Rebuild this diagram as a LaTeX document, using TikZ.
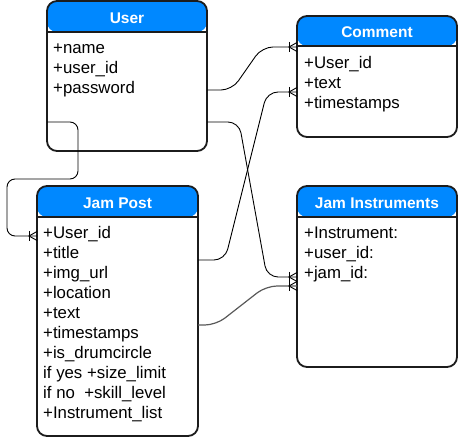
\documentclass[tikz,border=0pt]{standalone}
\usepackage{fontspec}
\setmainfont{Liberation Sans}
\usetikzlibrary{calc}
\definecolor{hdrblue}{HTML}{0088FF}
\definecolor{boxline}{HTML}{1C1C1C}
\newcommand\erCrow[1]{%
  \draw[cf] ($(#1)+(-8,-5)$) -- ($(#1)+(-8,5)$);
  \draw[cf] ($(#1)+(0,-4.5)$) -- ($(#1)+(-8,0)$) -- ($(#1)+(0,4.5)$);}
\begin{document}
\begin{tikzpicture}[x=1pt,y=-1pt,
  entity/.style n args={3}{draw=boxline, line width=1.8pt, rounded corners=10pt,
    fill=white, minimum width=#1, minimum height=#2, anchor=north west,
    inner sep=0pt, outer sep=0pt,
    path picture={\fill[hdrblue] (path picture bounding box.north west) rectangle
        ([yshift=-#3]path picture bounding box.north east);
      \draw[boxline, line width=1.6pt] ([yshift=-#3]path picture bounding box.north west) --
        ([yshift=-#3]path picture bounding box.north east);}},
  title/.style={anchor=base, inner sep=0pt, text=white,
    font=\fontsize{15.5}{18}\selectfont\bfseries},
  field/.style={anchor=base west, inner sep=0pt, text=black,
    font=\fontsize{16.8}{20}\selectfont},
  edge/.style={draw=black, line width=0.9pt, rounded corners=11pt},
  cf/.style={draw=black, line width=0.9pt}]
\useasboundingbox (0,0) rectangle (459,441);

% entities
\node[entity={160pt}{150pt}{31pt}] (user) at (47,1) {};
\node[entity={160pt}{121pt}{30pt}] (comment) at (297,16) {};
\node[entity={161pt}{250pt}{31pt}] (jampost) at (37,186) {};
\node[entity={160pt}{181pt}{31pt}] (jaminst) at (297,186) {};

% titles
\node[title] (userT) at (127,24) {User};
\node[title] (commentT) at (377,38) {Comment};
\node[title] (jampostT) at (117.5,209) {Jam Post};
\node[title] (jaminstT) at (377,209) {Jam Instruments};

% fields
\foreach \t [count=\i] in {+name,+user\_id,+password}
  \node[field] (uf\i) at (53,34+20*\i) {\t};
\foreach \t [count=\i] in {+User\_id,+text,+timestamps}
  \node[field] (cf\i) at (304,49+20*\i) {\t};
\foreach \t [count=\i] in {+User\_id,+title,+img\_url,+location,+text,+timestamps,+is\_drumcircle,if yes +size\_limit,if no\ \ +skill\_level,+Instrument\_list}
  \node[field] (pf\i) at (43,219+20*\i) {\t};
\foreach \t [count=\i] in {+Instrument:,+user\_id:,+jam\_id:}
  \node[field] (if\i) at (304,219+20*\i) {\t};

% ports
\coordinate (uR1) at ($(user.north east)+(0,89)$);
\coordinate (uR2) at ($(user.north east)+(0,121)$);
\coordinate (uL) at ($(user.north west)+(0,121)$);
\coordinate (cL1) at ($(comment.north west)+(0,31)$);
\coordinate (cL2) at ($(comment.north west)+(0,76)$);
\coordinate (pL) at ($(jampost.north west)+(0,50)$);
\coordinate (pR1) at ($(jampost.north east)+(0,74)$);
\coordinate (pR2) at ($(jampost.north east)+(0,139)$);
\coordinate (iL1) at ($(jaminst.north west)+(0,91)$);
\coordinate (iL2) at ($(jaminst.north west)+(0,100)$);

% connectors
\draw[edge] (uR1) -- ++(25,0) -- ($(cL1)+(-35,0)$) -- (cL1);
\draw[edge] (uR2) -- ++(32,0) -- ($(iL1)+(-30,0)$) -- (iL1);
\draw[edge] (pR1) -- ++(27,0) -- ($(cL2)+(-30,0)$) -- (cL2);
\draw[edge, draw=black!65, line width=1.2pt] (pR2) -- ++(18,0) -- ($(iL2)+(-31,0)$) -- (iL2);
\draw[edge, rounded corners=8pt] (uL) -- ++(31,0) -- ++(0,57) -- (7,179) -- (7,236) -- (pL);

\erCrow{cL1}
\erCrow{cL2}
\erCrow{iL1}
\erCrow{iL2}
\erCrow{pL}
\end{tikzpicture}
\end{document}
